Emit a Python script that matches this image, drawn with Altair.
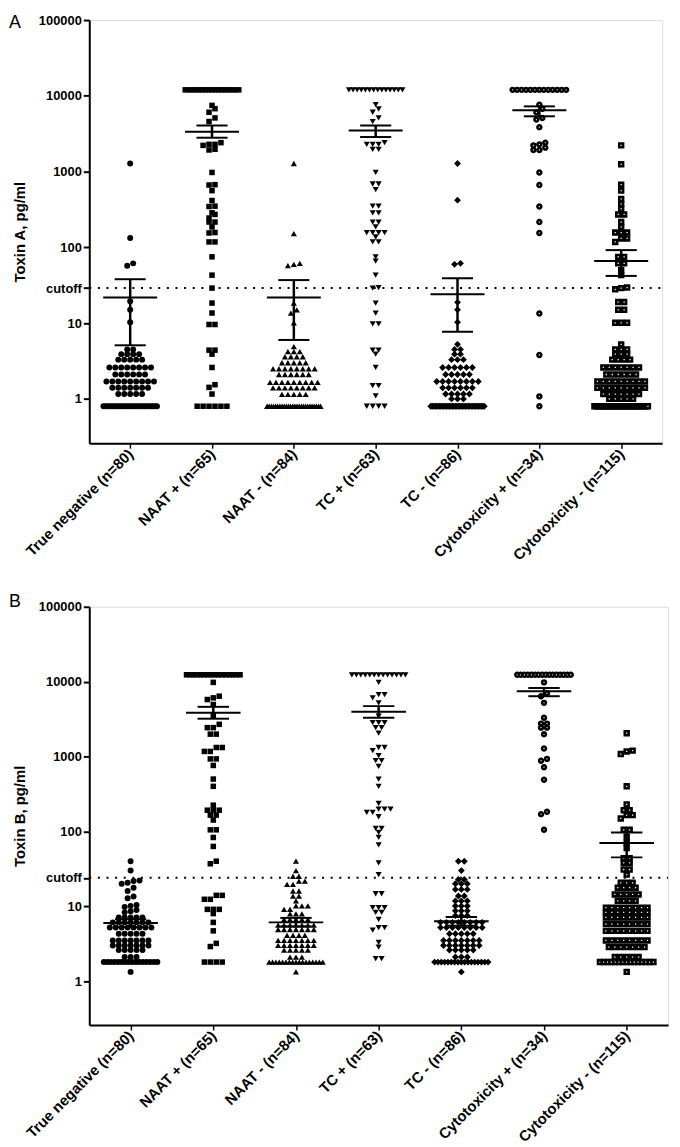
import numpy as np
import pandas as pd
import altair as alt

groups = ["True negative (n=80)", "NAAT + (n=65)", "NAAT - (n=84)", "TC + (n=63)",
          "TC - (n=86)", "Cytotoxicity + (n=34)", "Cytotoxicity - (n=115)"]

# ---------------- Panel A: Toxin A, pg/ml ----------------
a_true_neg = ([1280, 133, 61.5, 57.3, 19.4, 15, 10.3] + [4.5]*2 + [3.9]*4 + [3.3]*5 + [2.6]*8
              + [2.1]*6 + [1.7]*9 + [1.4]*7 + [1.16]*5 + [0.8]*27)
a_naat_pos = ([12000]*17 + [7480, 6770, 6070, 5110, 4580] + [2410, 2290, 2290, 2220, 1970, 1930]
              + [975, 672, 665, 561] + [415, 350, 346, 286, 272, 244, 216, 216, 186, 157, 155, 118, 118]
              + [75, 43, 29, 18.4, 13.6, 9.6, 9.6, 4.4, 4.4, 3.9, 2.6, 1.54, 1.42, 1.16] + [0.8]*6)
a_naat_neg = ([1280, 152, 61.5, 59.7, 57.3, 18.4, 15, 13.6, 10.1] + [4.9] + [4.2]*3 + [3.6]*4
              + [3.0]*5 + [2.5]*8 + [2.1]*6 + [1.65]*9 + [1.4]*8 + [1.15]*5 + [0.8]*26)
a_tc_pos = ([12000]*14 + [7640, 6700, 6070, 5110, 4580] + [2410, 2290, 2290, 2290, 1970, 1970]
            + [975, 686, 686, 578] + [350, 350, 286, 286, 216, 216, 186, 157, 157, 157, 157, 137, 118, 118]
            + [75, 66, 43, 29.5, 29, 18.4, 13.6, 9.8, 9.8, 4.4, 4.4, 3.9, 2.6, 1.5, 1.5, 1.1] + [0.8]*4)
a_tc_neg = ([1280, 420, 61.5, 59.7, 18.8, 15, 10.3] + [5.25] + [4.5]*2 + [3.9]*2 + [3.3]*3 + [2.6]*6
            + [2.1]*5 + [1.7]*8 + [1.4]*6 + [1.16]*5 + [1.0]*3 + [0.8]*38)
a_cyto_pos = ([12000]*13 + [7640, 6770, 6070, 5110, 4860, 3860] + [2410, 2290, 2220, 2070, 1930, 1930]
              + [975, 665, 346, 216, 155] + [13.4, 3.8, 1.08, 0.8])
a_cyto_neg = ([2220, 1250, 672, 561, 436, 375, 323, 272, 272, 216, 186, 157, 157, 157, 131, 131, 118]
              + [75, 75, 61.5, 61.5, 50, 43, 29.5, 29, 28, 19, 19, 15, 15, 10.1, 10.1, 10.1]
              + [5.25] + [4.5]*3 + [3.9]*3 + [3.3]*4 + [2.6]*7 + [2.1]*6 + [1.7]*9 + [1.4]*9
              + [1.16]*7 + [1.0]*5 + [0.8]*28)
a_mean = [21.8, 3350, 21.8, 3490, 24, 6440, 66]
a_sem_hi = [38, 4060, 37, 4060, 39, 7260, 92]
a_sem_lo = [5.1, 2800, 6.0, 2860, 7.7, 5370, 42]
a_cutoff = 29

# ---------------- Panel B: Toxin B, pg/ml ----------------
b_true_neg = ([40, 30, 22.1, 21.7, 20.6, 20, 17.7, 16, 13.5, 12.8, 10.4, 10.1, 9.8, 8.9, 8.6, 8.3]
              + [7.1]*5 + [6.1]*7 + [5.2]*8 + [4.3]*5 + [3.5]*7 + [3.0]*7 + [2.6]*5 + [2.1]*3
              + [1.8]*16 + [1.33])
b_naat_pos = ([12350]*16 + [9780, 6390, 6070, 5770, 4950, 3470] + [2690, 2430, 2430, 1990, 1990]
              + [1320, 1320, 1170, 1170, 930, 930, 760, 500, 400]
              + [224, 192, 192, 192, 165, 165, 142, 105, 105, 83, 63, 40, 37]
              + [14, 14, 12.4, 12.4, 9.1, 9.1, 9.1, 8.0, 6.1, 4.7, 3.2, 2.9] + [1.8]*4)
b_naat_neg = ([40, 30, 25.2, 25.2, 21.7, 21.7, 19.6, 19.6, 16, 16, 13.7, 13.7, 11.8, 10.1, 10.1, 10.1,
               9.1, 9.1, 7.9, 7.9, 7.9] + [6.7]*5 + [5.6]*7 + [4.9]*7 + [4.1]*4 + [3.5]*7 + [3.0]*7
              + [2.6]*5 + [2.1]*3 + [1.8]*17 + [1.33])
b_tc_pos = ([12350]*13 + [9780, 6720, 6720, 6070, 5210, 3470] + [2830, 2830, 2830, 2430, 2430, 2050]
            + [1320, 1320, 1200, 1030, 880, 880, 740, 500, 400]
            + [236, 198, 198, 198, 179, 179, 157, 110, 110, 97, 83, 66] + [38, 26.5]
            + [14.7, 14.7, 9.6, 9.6, 9.6, 8.3, 8.3, 6.7, 5.2, 5.2, 4.8, 3.3, 2.85, 2.0, 2.0])
b_tc_neg = ([40, 40, 30, 22.8, 22.8, 20, 20, 20, 16.8, 16.8, 16.8, 13.7, 13.7, 11.8, 11.8, 11.8,
             10.1, 10.1, 10.1, 8.7, 8.7, 8.7, 7.5, 7.5, 7.5] + [6.1]*8 + [5.2]*8 + [4.3]*5 + [3.5]*7
            + [3.0]*7 + [2.6]*5 + [2.1]*3 + [1.8]*17 + [1.33])
b_cyto_pos = ([12350]*16 + [9780, 7000, 6390, 5210] + [3300, 2750, 2750, 2430, 2430, 1990]
              + [1280, 930, 880, 720, 490] + [183, 170, 105])
b_cyto_neg = ([2050, 1200, 1170, 1080, 400, 229, 192, 192, 165, 165, 149]
              + [105, 105, 85, 70, 60, 44, 44, 38, 38, 31, 31, 26.5]
              + [20.6]*3 + [17.7]*4 + [14.4]*5 + [11.8]*4 + [9.6]*8 + [8.3]*8 + [7.1]*8 + [5.8]*8
              + [4.7]*8 + [3.5]*8 + [2.85]*7 + [2.1]*5 + [1.8]*15 + [1.33])
b_mean = [6.0, 3840, 6.1, 3960, 6.3, 7430, 70]
b_sem_hi = [6.7, 4610, 7.0, 4710, 7.2, 8230, 97]
b_sem_lo = [5.3, 3200, 5.4, 3300, 5.5, 6390, 45]
b_cutoff = 24

shapes = ["circle", "square", "triangle-up", "triangle-down", "diamond", "circle", "square"]
sizes = [36, 31, 38, 38, 48, 15, 15]
open_marker = [False, False, False, False, False, True, True]

FONT = "Liberation Sans"


def swarm(vals, decade_px, d=6.0, wmax=54.0, tol=4.0):
    """Prism-like dot layout: points within `tol` px vertically share a row."""
    v = np.asarray(vals, dtype=float)
    ypx = np.log10(v) * decade_px
    order = np.argsort(ypx, kind="stable")
    rows, cur, start = [], [order[0]], ypx[order[0]]
    for i in order[1:]:
        if ypx[i] - start < tol:
            cur.append(i)
        else:
            rows.append(cur)
            cur, start = [i], ypx[i]
    rows.append(cur)
    off = np.zeros(len(v))
    for r in rows:
        n = len(r)
        if n > 1:
            sp = min(d, wmax / (n - 1))
            for k, i in enumerate(r):
                off[i] = (k - (n - 1) / 2) * sp
    return off


def panel(values, means, his, los, cutoff, letter, title, width, height, letter_y):
    decade_px = height / np.log10(100000 / 0.26)
    unit = width / 7.0
    xs = alt.Scale(domain=[-0.5, 6.5], nice=False, zero=False)
    ys = alt.Scale(type="log", domain=[0.26, 100000], nice=False)
    names = "[" + ",".join("'" + g + "'" for g in groups) + "]"
    xaxis = alt.Axis(values=list(range(7)), labelExpr=names + "[datum.value]", labelAngle=315,
                     labelAlign="right", labelBaseline="middle", labelFontSize=15,
                     labelFontWeight="bold", labelFont=FONT, labelColor="black", labelPadding=3,
                     tickSize=5, tickWidth=1.5, tickColor="black", domainWidth=2, domainColor="black",
                     grid=False, title=None, labelOverlap=False, labelFlush=False)
    yaxis = alt.Axis(values=[1, 10, 100, 1000, 10000, 100000, cutoff],
                     labelExpr=f"datum.value == {cutoff} ? 'cutoff' : format(datum.value, 'd')",
                     labelFontSize=13, labelFontWeight="bold", labelFont=FONT, labelColor="black",
                     labelPadding=2, tickSize=6, tickWidth=2, tickColor="black", domainWidth=2,
                     domainColor="black", grid=False, title=title, titleFontSize=15,
                     titleFontWeight="bold", titleFont=FONT, titleColor="black", titlePadding=11,
                     labelOverlap=False, labelFlush=False)
    layers = []
    for i, vals in enumerate(values):
        off = swarm(vals, decade_px) / unit
        df = pd.DataFrame({"xpos": i + off, "val": vals})
        if open_marker[i]:
            mk = alt.Chart(df).mark_point(shape=shapes[i], size=sizes[i], filled=True, fill="white",
                                          stroke="black", strokeWidth=2.6, opacity=1)
        else:
            mk = alt.Chart(df).mark_point(shape=shapes[i], size=sizes[i], filled=True, color="black",
                                          opacity=1, strokeWidth=0)
        layers.append(mk.encode(x=alt.X("xpos:Q", scale=xs, axis=xaxis),
                                y=alt.Y("val:Q", scale=ys, axis=yaxis)))
    # cutoff dotted line
    cdf = pd.DataFrame({"c": [cutoff]})
    layers.append(alt.Chart(cdf).mark_rule(strokeDash=[2, 6.7], strokeWidth=2, color="black")
                  .encode(y=alt.Y("c:Q", scale=ys, axis=yaxis), x=alt.value(0), x2=alt.value(width)))
    idx = np.arange(7)
    mdf = pd.DataFrame({"xa": idx - 0.33, "xb": idx + 0.33, "m": means})
    layers.append(alt.Chart(mdf).mark_rule(strokeWidth=2, color="black")
                  .encode(x=alt.X("xa:Q", scale=xs, axis=xaxis), x2="xb:Q",
                          y=alt.Y("m:Q", scale=ys, axis=yaxis)))
    sdf = pd.DataFrame({"xa": np.r_[idx, idx] - 0.19, "xb": np.r_[idx, idx] + 0.19,
                        "s": list(his) + list(los)})
    layers.append(alt.Chart(sdf).mark_rule(strokeWidth=2, color="black")
                  .encode(x=alt.X("xa:Q", scale=xs, axis=xaxis), x2="xb:Q",
                          y=alt.Y("s:Q", scale=ys, axis=yaxis)))
    vdf = pd.DataFrame({"xc": idx.astype(float), "lo": los, "hi": his})
    layers.append(alt.Chart(vdf).mark_rule(strokeWidth=2.5, color="black")
                  .encode(x=alt.X("xc:Q", scale=xs, axis=xaxis),
                          y=alt.Y("lo:Q", scale=ys, axis=yaxis), y2="hi:Q"))
    ldf = pd.DataFrame({"t": [letter]})
    layers.append(alt.Chart(ldf).mark_text(align="left", baseline="top", fontSize=18, font=FONT,
                                           color="black")
                  .encode(text="t:N", x=alt.value(-81), y=alt.value(letter_y)))
    return alt.layer(*layers).properties(width=width, height=height)


pa = panel([a_true_neg, a_naat_pos, a_naat_neg, a_tc_pos, a_tc_neg, a_cyto_pos, a_cyto_neg],
           a_mean, a_sem_hi, a_sem_lo, a_cutoff, "A", "Toxin A, pg/ml", 578, 427, -6)
pb = panel([b_true_neg, b_naat_pos, b_naat_neg, b_tc_pos, b_tc_neg, b_cyto_pos, b_cyto_neg],
           b_mean, b_sem_hi, b_sem_lo, b_cutoff, "B", "Toxin B, pg/ml", 584, 422, -14)

chart = (alt.vconcat(pa, pb, spacing=165, bounds="flush")
         .properties(padding={"left": 0, "top": 0, "right": 2, "bottom": 2})
         .configure_view(stroke=None)
         .configure(font=FONT, background="white"))

chart.save("out.html", embed_options={"renderer": "svg", "actions": False})
